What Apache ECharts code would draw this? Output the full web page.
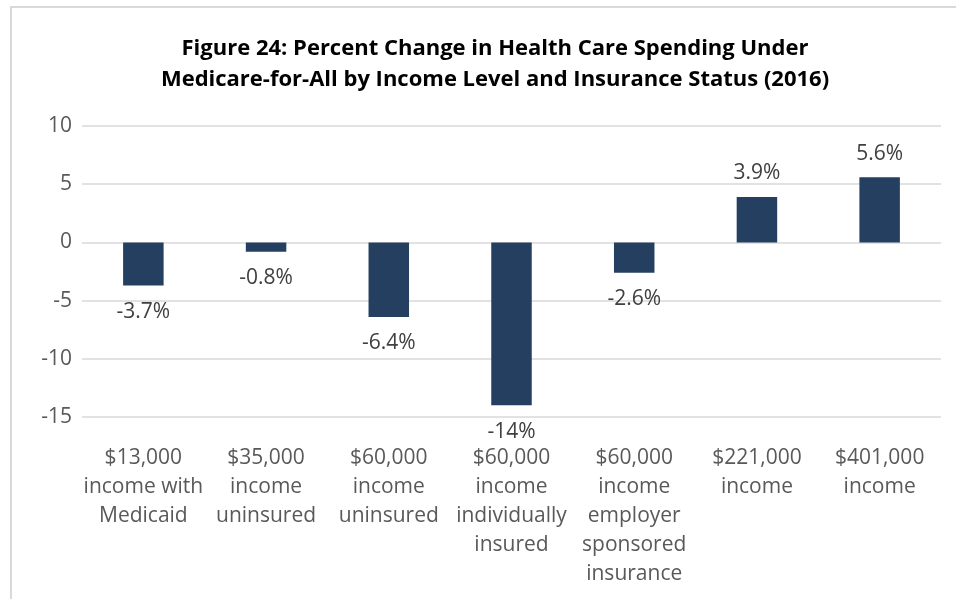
<!DOCTYPE html>
<html>
<head>
<meta charset="utf-8">
<style>
  html, body { margin: 0; padding: 0; background: #fff; }
  #chart { width: 956px; height: 599px; }
</style>
<script src="https://cdn.jsdelivr.net/npm/echarts@6/dist/echarts.min.js"></script>
</head>
<body>
<div id="chart"></div>
<script>
// 类目 / 数值
var categories = [
    '$13,000\nincome with\nMedicaid',
    '$35,000\nincome\nuninsured',
    '$60,000\nincome\nuninsured',
    '$60,000\nincome\nindividually\ninsured',
    '$60,000\nincome\nemployer\nsponsored\ninsurance',
    '$221,000\nincome',
    '$401,000\nincome'
]
var values = [-3.7, -0.8, -6.4, -14, -2.6, 3.9, 5.6]
var valueLabels = ['-3.7%', '-0.8%', '-6.4%', '-14%', '-2.6%', '3.9%', '5.6%']

var font = '"Open Sans", Lato, sans-serif'

var myChart = echarts.init(document.getElementById('chart'))

// 负值标签放在柱子下方
var barData = values.map(function (v, i) {
    return {
        value: v,
        label: {
            position: v < 0 ? 'bottom' : 'top',
            distance: v < 0 ? 16 : 13,
            formatter: valueLabels[i]
        }
    }
})

var option = {
    animation: false,
    graphic: [
        {
            type: 'rect',
            shape: { x: 11, y: 7, width: 1000, height: 700 },
            style: { fill: 'none', stroke: '#d9d9d9', lineWidth: 2 },
            silent: true
        }
    ],
    title: {
        text: 'Figure 24: Percent Change in Health Care Spending Under\nMedicare-for-All by Income Level and Insurance Status (2016)',
        left: 490,
        textAlign: 'center',
        top: 28,
        textStyle: {
            fontFamily: font,
            fontWeight: 'bold',
            fontSize: 22,
            lineHeight: 31,
            color: '#000'
        }
    },
    grid: {
        left: 82,
        right: 15,
        top: 126,
        bottom: 182
    },
    xAxis: {
        type: 'category',
        data: categories,
        axisLine: { show: false },
        axisTick: { show: false },
        axisLabel: {
            interval: 0,
            margin: 27,
            fontFamily: font,
            fontSize: 21,
            lineHeight: 29,
            color: '#595959'
        }
    },
    yAxis: {
        type: 'value',
        min: -15,
        max: 10,
        interval: 5,
        axisLine: { show: false },
        axisTick: { show: false },
        splitLine: { lineStyle: { color: '#d9d9d9', width: 1.5 } },
        axisLabel: {
            margin: 10,
            fontFamily: font,
            fontSize: 21,
            color: '#595959'
        }
    },
    series: [
        {
            type: 'bar',
            data: barData,
            barWidth: '33%',
            itemStyle: { color: '#243f60' },
            label: {
                show: true,
                fontFamily: font,
                fontSize: 21,
                color: '#404040'
            }
        }
    ]
}
myChart.setOption(option)
</script>
</body>
</html>
